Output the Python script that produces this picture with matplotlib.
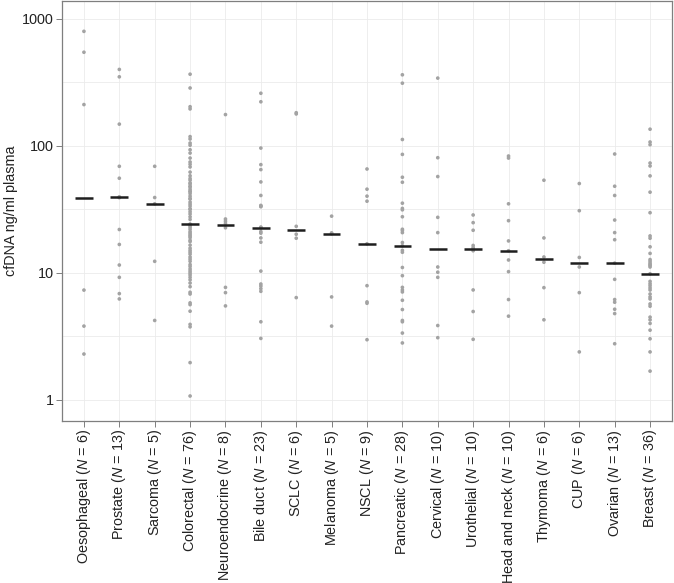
import matplotlib
matplotlib.use("Agg")
import matplotlib.pyplot as plt
import numpy as np

plt.rcParams['font.family'] = ['Liberation Sans', 'DejaVu Sans']
plt.rcParams['mathtext.fontset'] = 'custom'
plt.rcParams['mathtext.rm'] = 'Liberation Sans'
plt.rcParams['mathtext.it'] = 'Liberation Sans:italic'

categories = ["Oesophageal", "Prostate", "Sarcoma", "Colorectal", "Neuroendocrine",
              "Bile duct", "SCLC", "Melanoma", "NSCL", "Pancreatic", "Cervical",
              "Urothelial", "Head and neck", "Thymoma", "CUP", "Ovarian", "Breast"]
counts = [6, 13, 5, 76, 8, 23, 6, 5, 9, 28, 10, 10, 10, 6, 6, 13, 36]
medians = [38.9, 39.6, 34.9, 24.2, 23.8, 22.6, 21.6, 20.3, 16.9, 16.3, 15.3,
           15.5, 14.9, 12.8, 12.0, 11.9, 9.8]

oesophageal = [796, 545, 211, 7.3, 3.8, 2.29]
prostate = [399, 349, 148, 68.9, 55.5, 39.6, 21.9, 16.7, 11.5, 9.2, 6.85, 6.22, 39.0]
sarcoma = [68.9, 39.1, 34.9, 12.3, 4.21]
colorectal = [366, 285, 203, 195, 118, 113, 101, 93, 87.6, 74.5, 71.4, 68.1, 55.2,
              53.5, 51, 47.4, 45.5, 43.4, 40.1, 38.5, 34.7, 33.5, 31.5, 30.2, 27.6,
              26.3, 24.2, 22.8, 21.1, 19.9, 18.9, 17.6, 15.6, 14.0, 13.3, 12.3, 11.6,
              10.7, 9.94, 9.2, 8.3, 7.77, 7.02, 5.79, 5.61, 4.98, 3.92, 3.75, 1.96, 1.07,
              36, 42, 48, 58, 62, 80, 105, 29, 32, 38, 44, 50,
              23.5, 22, 20.5, 19.4, 18, 16.5, 15, 14.5, 12.8, 11.2, 10.3, 9.6, 8.8, 6.8]
neuroendocrine = [176, 26.5, 25.5, 24.5, 22.6, 7.67, 6.97, 5.48]
bile_duct = [259, 222, 95.9, 71.0, 64.9, 51.9, 40.6, 33.9, 33.1, 22.9, 22.6, 21.1,
             20.5, 18.8, 17.4, 10.3, 8.15, 7.86, 7.5, 7.14, 4.11, 3.04, 33.5]
sclc = [182, 178, 23.2, 20.1, 18.7, 6.37]
melanoma = [27.9, 20.6, 20.3, 6.45, 3.80]
nscl = [65.6, 45.5, 40.1, 36.6, 16.9, 7.91, 5.89, 5.75, 2.97]
pancreatic = [362, 311, 112, 85.5, 56.5, 51.6, 35.3, 32.1, 31.3, 27.6, 22.0, 21.5,
              20.7, 17.3, 16.3, 15.0, 14.5, 11.0, 9.48, 7.67, 7.31, 7.06, 6.07, 5.13,
              4.21, 4.11, 3.35, 2.80]
cervical = [341, 80.5, 57.2, 27.3, 20.7, 11.1, 10.1, 9.2, 3.84, 3.08]
urothelial = [28.5, 24.8, 21.6, 16.4, 15.8, 15.4, 14.9, 7.32, 4.95, 2.99]
head_neck = [83.0, 80.0, 34.9, 25.7, 17.8, 14.9, 12.6, 10.2, 6.15, 4.55]
thymoma = [53.5, 18.8, 13.3, 12.1, 7.63, 4.26]
cup = [50.4, 30.8, 13.2, 11.1, 6.97, 2.38]
ovarian = [86.1, 48.0, 40.6, 26.0, 20.7, 18.2, 11.9, 8.87, 6.15, 5.86, 5.16, 4.77, 2.76]
breast = [135, 107, 102, 73.1, 69.3, 57.9, 43.1, 29.7, 19.5, 18.7, 14.2, 12.7, 11.9,
          11.6, 11.1, 9.82, 8.55, 8.2, 7.91, 7.59, 7.31, 6.45, 6.22, 5.68, 5.45, 4.47,
          4.26, 3.99, 3.53, 3.02, 2.38, 1.68, 12.3, 16, 11.4, 6.8]

series = [oesophageal, prostate, sarcoma, colorectal, neuroendocrine, bile_duct, sclc,
          melanoma, nscl, pancreatic, cervical, urothelial, head_neck, thymoma, cup,
          ovarian, breast]

fig = plt.figure(figsize=(6.74, 5.83), dpi=100)
ax = fig.add_axes([62 / 674, 1 - 421 / 583, 610 / 674, 420 / 583])

grid_c = '#ebebeb'
for i in range(len(categories)):
    ax.axvline(i, color=grid_c, lw=0.6, zorder=0)
for v in [1, 10, 100, 1000]:
    ax.axhline(v, color=grid_c, lw=0.6, zorder=0)
for v in [10 ** 0.5, 10 ** 1.5, 10 ** 2.5]:
    ax.axhline(v, color=grid_c, lw=0.6, zorder=0)

for i, vals in enumerate(series):
    ax.scatter(np.full(len(vals), i), vals, s=7, color='#a3a3a3', edgecolors='none', zorder=2)
    ax.hlines(medians[i], i - 0.25, i + 0.25, color='#1e1e1e', lw=1.8, zorder=3)

ax.set_yscale('log')
ax.set_ylim(0.68, 1380)
ax.set_xlim(-0.62, len(categories) - 0.38)
ax.set_yticks([1, 10, 100, 1000])
ax.set_yticklabels(['1', '10', '100', '1000'])
ax.yaxis.set_minor_locator(matplotlib.ticker.NullLocator())
ax.set_xticks(range(len(categories)))
ax.set_xticklabels([f"{c} ($\\it{{N}}$ = {n})" for c, n in zip(categories, counts)],
                   rotation=90)
ax.tick_params(axis='both', labelsize=10.4, colors='#7f7f7f', labelcolor='#222222',
               length=4, width=0.7, pad=2)
for sp in ax.spines.values():
    sp.set_color('#7f7f7f')
    sp.set_linewidth(0.9)
ax.set_ylabel('cfDNA ng/ml plasma', fontsize=10.4, color='#222222', labelpad=3)

fig.savefig('out.png', dpi=100)
